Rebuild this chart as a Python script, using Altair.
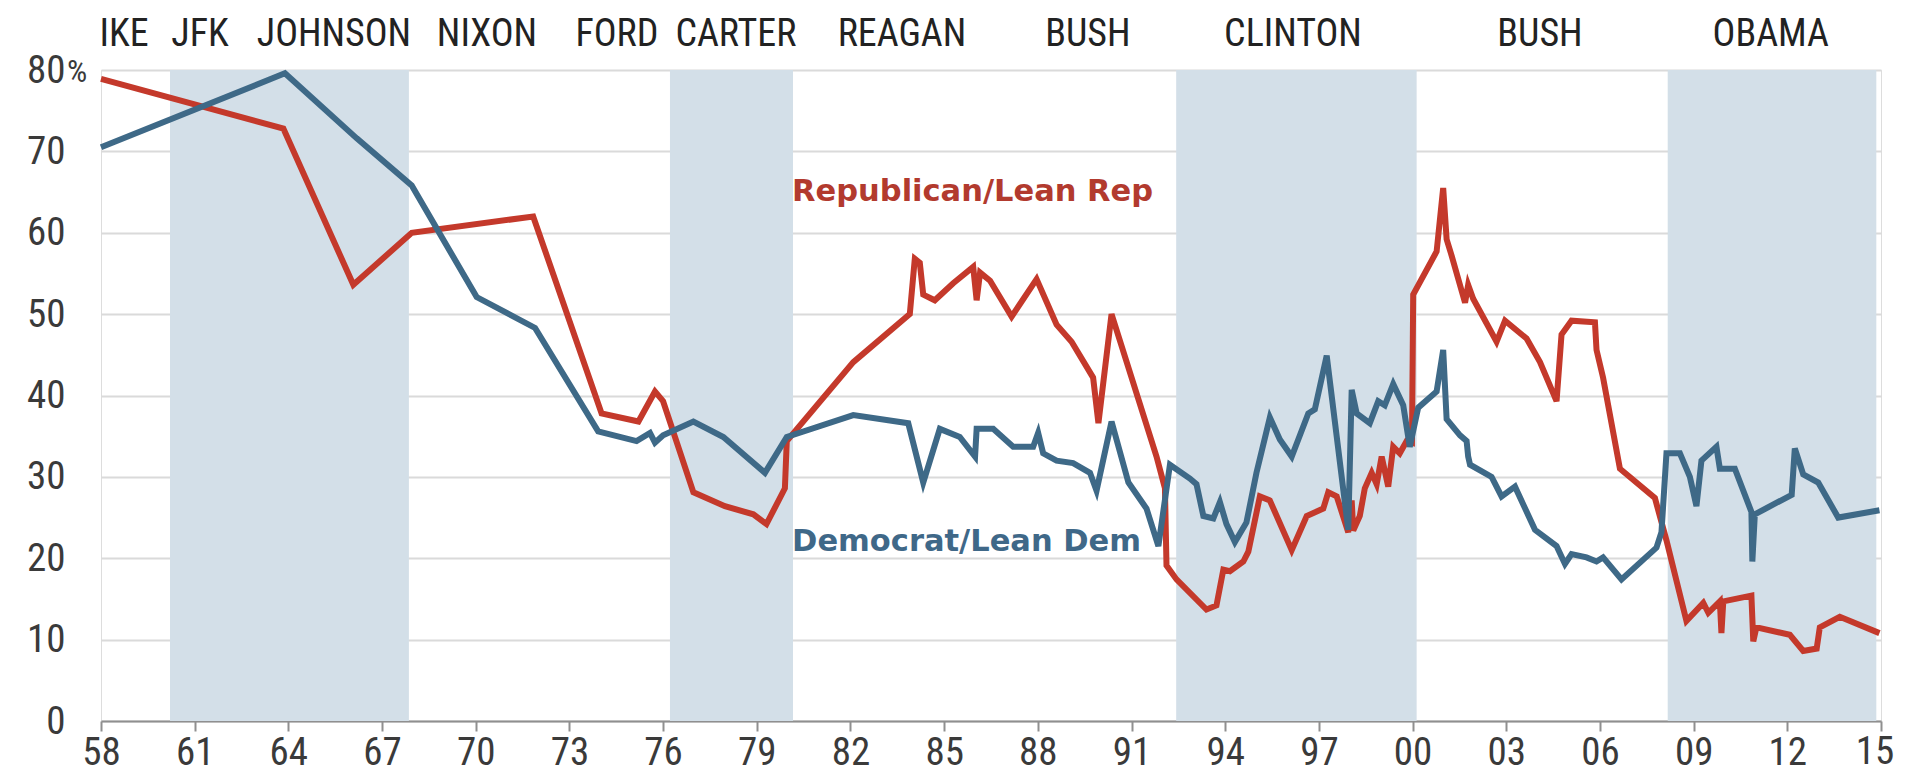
import altair as alt
import pandas as pd

# ---------------- data ----------------
rep_years = [1958.0, 1963.84, 1966.08, 1967.95, 1971.84, 1974.03, 1975.21, 1975.74, 1976.0,
             1976.97, 1977.98, 1978.89, 1979.31, 1979.9, 1979.96, 1982.09, 1983.9, 1984.06,
             1984.22, 1984.33, 1984.7, 1985.29, 1985.93, 1986.04, 1986.15, 1986.47, 1987.16,
             1987.96, 1988.6, 1989.08, 1989.77, 1989.94, 1990.36, 1991.8, 1992.07, 1992.12,
             1992.44, 1993.4, 1993.72, 1993.94, 1994.15, 1994.58, 1994.74, 1995.11, 1995.43,
             1996.13, 1996.61, 1997.14, 1997.3, 1997.57, 1997.94, 1998.05, 1998.1, 1998.31,
             1998.47, 1998.69, 1998.85, 1999.01, 1999.22, 1999.38, 1999.59, 1999.81, 1999.98,
             2000.02, 2000.77, 2000.98, 2001.09, 2001.25, 2001.68, 2001.78, 2001.94, 2002.69,
             2002.96, 2003.65, 2004.08, 2004.61, 2004.77, 2005.09, 2005.84, 2005.89, 2006.1,
             2006.64, 2007.76, 2008.13, 2008.77, 2009.31, 2009.47, 2009.84, 2009.89, 2009.95,
             2010.85, 2010.91, 2011.01, 2012.08, 2012.51, 2012.94, 2013.04, 2013.68, 2014.95]
rep_values = [78.9, 72.8, 53.6, 60.0, 62.0, 37.8, 36.8, 40.5, 39.3,
              28.1, 26.4, 25.4, 24.2, 28.6, 34.4, 44.1, 50.0, 56.8,
              56.3, 52.4, 51.7, 53.8, 55.8, 51.7, 55.1, 54.1, 49.7,
              54.3, 48.7, 46.6, 42.2, 36.6, 50.0, 32.5, 28.6, 19.1,
              17.4, 13.7, 14.2, 18.6, 18.4, 19.6, 20.8, 27.6, 27.1,
              21.0, 25.2, 26.1, 28.1, 27.6, 23.2, 27.1, 23.4, 25.2,
              28.6, 30.5, 29.1, 32.5, 28.8, 33.7, 32.9, 34.4, 34.2,
              52.4, 57.7, 65.5, 59.2, 57.2, 51.4, 53.6, 51.9, 46.6,
              49.2, 47.0, 44.1, 39.3, 47.5, 49.2, 49.0, 45.6, 42.2,
              31.0, 27.4, 22.2, 12.3, 14.5, 13.3, 14.7, 10.8, 14.7,
              15.4, 9.8, 11.5, 10.6, 8.6, 8.9, 11.5, 12.8, 10.8]

dem_years = [1958.0, 1963.89, 1966.19, 1967.95, 1970.03, 1971.9, 1973.92, 1975.15, 1975.58,
             1975.74, 1976.0, 1976.97, 1977.93, 1979.26, 1979.96, 1982.09, 1983.85, 1984.33,
             1984.86, 1985.5, 1985.99, 1986.04, 1986.57, 1987.21, 1987.85, 1988.01, 1988.17,
             1988.6, 1989.13, 1989.67, 1989.88, 1990.36, 1990.9, 1991.48, 1991.86, 1992.23,
             1992.87, 1993.08, 1993.3, 1993.62, 1993.83, 1994.04, 1994.31, 1994.68, 1995.0,
             1995.43, 1995.75, 1996.13, 1996.66, 1996.87, 1997.25, 1997.94, 1998.05, 1998.21,
             1998.63, 1998.9, 1999.11, 1999.38, 1999.7, 1999.91, 2000.18, 2000.77, 2000.98,
             2001.09, 2001.52, 2001.73, 2001.78, 2001.84, 2002.53, 2002.85, 2003.28, 2003.92,
             2004.61, 2004.88, 2005.09, 2005.57, 2005.89, 2006.1, 2006.69, 2007.81, 2007.97,
             2008.13, 2008.56, 2008.88, 2009.09, 2009.25, 2009.73, 2009.84, 2010.32, 2010.85,
             2010.88, 2010.96, 2012.14, 2012.24, 2012.51, 2012.99, 2013.63, 2014.95]
dem_values = [70.5, 79.6, 71.6, 65.8, 52.1, 48.3, 35.6, 34.4, 35.4,
              34.2, 35.1, 36.8, 34.9, 30.5, 34.9, 37.6, 36.6, 29.3,
              35.9, 34.9, 32.5, 35.9, 35.9, 33.7, 33.7, 35.4, 32.9,
              32.0, 31.7, 30.5, 28.3, 36.8, 29.3, 26.1, 21.5, 31.5,
              29.8, 29.1, 25.2, 24.9, 26.9, 24.2, 22.0, 24.4, 30.5,
              37.3, 34.6, 32.5, 37.8, 38.3, 44.9, 23.5, 40.7, 37.8,
              36.6, 39.3, 38.8, 41.4, 38.8, 33.7, 38.5, 40.5, 45.6,
              37.1, 35.1, 34.4, 32.5, 31.5, 30.0, 27.6, 28.8, 23.5,
              21.5, 19.3, 20.5, 20.1, 19.6, 20.1, 17.4, 21.3, 23.2,
              32.9, 32.9, 30.0, 26.4, 32.0, 33.7, 31.0, 31.0, 25.7,
              19.6, 25.4, 27.8, 33.5, 30.3, 29.3, 25.0, 25.9]

series_names = ["Republican/Lean Rep", "Democrat/Lean Dem"]
series_colors = ["#c4392b", "#3e6987"]
label_colors = ["#b23a2e", "#3f6888"]
label_years = [1980.13, 1980.13]
label_values = [65.0, 22.0]

tick_years = [1958, 1961, 1964, 1967, 1970, 1973, 1976, 1979, 1982, 1985,
              1988, 1991, 1994, 1997, 2000, 2003, 2006, 2009, 2012, 2015]
tick_labels = ["58", "61", "64", "67", "70", "73", "76", "79", "82", "85",
               "88", "91", "94", "97", "00", "03", "06", "09", "12", "15"]
y_ticks = [0, 10, 20, 30, 40, 50, 60, 70, 80]

band_starts = [1960.21, 1976.22, 1992.43, 2008.17]
band_ends = [1967.86, 1980.16, 2000.13, 2014.85]

presidents = ["IKE", "JFK", "JOHNSON", "NIXON", "FORD", "CARTER", "REAGAN",
              "BUSH", "CLINTON", "BUSH", "OBAMA"]
president_label_years = [1958.74, 1961.17, 1965.46, 1970.36, 1974.52, 1978.33,
                         1983.65, 1989.6, 1996.17, 2004.08, 2011.47]

# ---------------- tables ----------------
lines_df = pd.concat([
    pd.DataFrame({"year": rep_years, "value": rep_values, "party": series_names[0]}),
    pd.DataFrame({"year": dem_years, "value": dem_values, "party": series_names[1]}),
], ignore_index=True)
bands_df = pd.DataFrame({"start": band_starts, "end": band_ends})
pres_df = pd.DataFrame({"name": presidents, "year": president_label_years})
lab_df = pd.DataFrame({"name": series_names, "year": label_years,
                       "value": label_values, "color": label_colors})
# last tick label drawn as a text mark so that it can sit just inside the page edge
last_tick_df = pd.DataFrame({"year": [tick_years[-1]], "label": [tick_labels[-1]]})

W, H = 1780, 651
NARROW = "Liberation Sans Narrow, Arial Narrow, Roboto Condensed, Liberation Sans, sans-serif"
TICK_FS = 39
LABEL_GRAY = "#3a3a3a"

label_expr = " : ".join(
    [f"datum.value == {y} ? '{l}'" for y, l in zip(tick_years[:-1], tick_labels[:-1])]) + " : ''"

x_scale = alt.Scale(domain=[1958, 2015], nice=False, zero=False)
y_scale = alt.Scale(domain=[0, 80], nice=False)

x_axis = alt.Axis(values=tick_years, labelExpr=label_expr, grid=False, title=None,
                  domainColor="#8f8f8f", domainWidth=2, tickColor="#8f8f8f", tickWidth=2,
                  tickSize=10, labelPadding=2, labelFont=NARROW, labelFontSize=TICK_FS,
                  labelColor=LABEL_GRAY, labelFlush=False)
y_axis = alt.Axis(values=y_ticks, grid=True, gridColor="#dadada", gridWidth=2,
                  domain=False, ticks=False, labelPadding=36, title=None,
                  labelFont=NARROW, labelFontSize=TICK_FS, labelColor=LABEL_GRAY,
                  labelBaseline="middle")

bands = alt.Chart(bands_df).mark_rect(color="#d3dfe8").encode(
    x=alt.X("start:Q", scale=x_scale, axis=x_axis),
    x2="end:Q",
    y=alt.datum(0, scale=y_scale, axis=y_axis),
    y2=alt.datum(80),
)

lines = alt.Chart(lines_df).mark_line(strokeWidth=6, strokeJoin="miter").encode(
    x=alt.X("year:Q", scale=x_scale),
    y=alt.Y("value:Q", scale=y_scale),
    color=alt.Color("party:N", scale=alt.Scale(domain=series_names, range=series_colors),
                    legend=None),
    order=alt.Order("year:Q"),
)

series_labels = alt.Chart(lab_df).mark_text(
    align="left", baseline="middle", font="DejaVu Sans", fontWeight="bold", fontSize=30.5
).encode(
    x="year:Q", y="value:Q",
    color=alt.Color("color:N", scale=None),
    text="name:N",
)

pres_labels = alt.Chart(pres_df).mark_text(
    align="center", baseline="middle", font=NARROW, fontSize=38, color="#222222"
).encode(
    x="year:Q", y=alt.value(-35), text="name:N",
)

last_tick = alt.Chart(last_tick_df).mark_text(
    align="center", baseline="top", font=NARROW, fontSize=TICK_FS, color=LABEL_GRAY, dx=-6
).encode(
    x="year:Q", y=alt.value(H + 12), text="label:N",
)

pct = alt.Chart(pd.DataFrame({"t": ["%"]})).mark_text(
    align="left", baseline="middle", font=NARROW, fontSize=32, color=LABEL_GRAY, dy=2
).encode(
    x=alt.value(-34), y=alt.datum(80), text="t:N",
)

chart = alt.layer(bands, lines, series_labels, pres_labels, last_tick, pct).properties(
    width=W, height=H,
    autosize=alt.AutoSizeParams(type="none"),
    padding={"left": 93, "top": 62, "right": 18, "bottom": 55},
).configure_view(stroke=None).configure(background="white")

chart.save("out.html", embed_options={"renderer": "svg", "actions": False})
